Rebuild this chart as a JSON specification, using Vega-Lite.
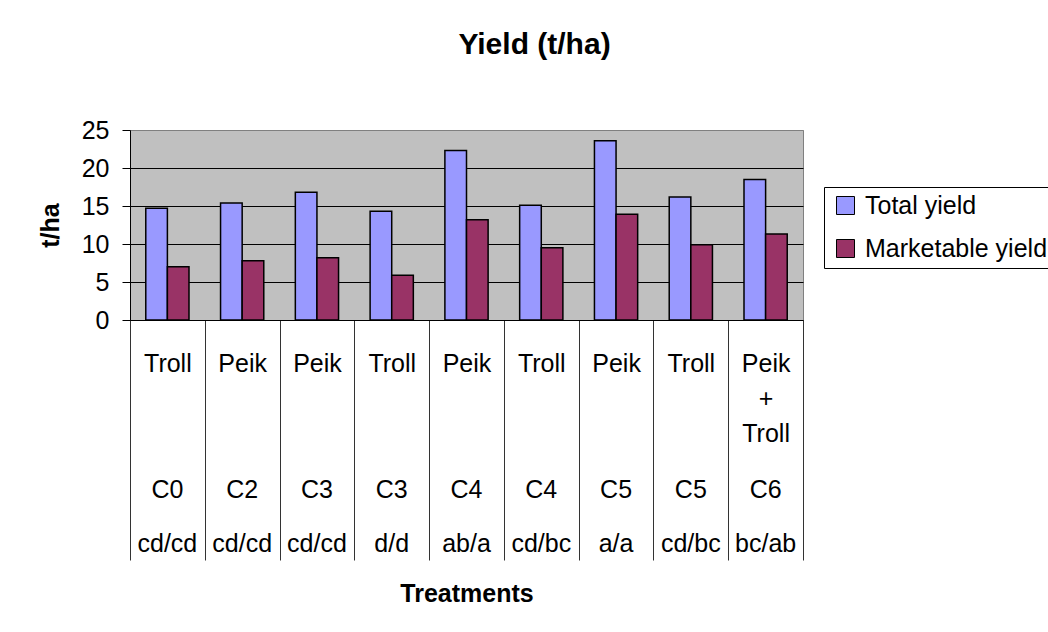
{
  "$schema": "https://vega.github.io/schema/vega-lite/v6.json",
  "width": 673,
  "height": 190,
  "autosize": {"type": "none"},
  "padding": {"left": 130, "top": 130, "right": 245, "bottom": 312},
  "background": "white",
  "config": {
    "font": "Liberation Sans",
    "view": {"stroke": "#808080", "fill": "#C0C0C0", "strokeWidth": 1}
  },
  "title": {
    "text": "Yield (t/ha)",
    "fontSize": 30,
    "fontWeight": "bold",
    "color": "black",
    "anchor": "middle",
    "frame": "group",
    "dx": 68,
    "offset": 58
  },
  "data": {
    "values": [
      {"treatment": "Troll|C0|cd/cd", "series": "Total yield", "value": 14.7},
      {"treatment": "Troll|C0|cd/cd", "series": "Marketable yield", "value": 7.0},
      {"treatment": "Peik|C2|cd/cd", "series": "Total yield", "value": 15.4},
      {"treatment": "Peik|C2|cd/cd", "series": "Marketable yield", "value": 7.8},
      {"treatment": "Peik|C3|cd/cd", "series": "Total yield", "value": 16.8},
      {"treatment": "Peik|C3|cd/cd", "series": "Marketable yield", "value": 8.2},
      {"treatment": "Troll|C3|d/d", "series": "Total yield", "value": 14.3},
      {"treatment": "Troll|C3|d/d", "series": "Marketable yield", "value": 5.9},
      {"treatment": "Peik|C4|ab/a", "series": "Total yield", "value": 22.3},
      {"treatment": "Peik|C4|ab/a", "series": "Marketable yield", "value": 13.2},
      {"treatment": "Troll|C4|cd/bc", "series": "Total yield", "value": 15.1},
      {"treatment": "Troll|C4|cd/bc", "series": "Marketable yield", "value": 9.5},
      {"treatment": "Peik|C5|a/a", "series": "Total yield", "value": 23.6},
      {"treatment": "Peik|C5|a/a", "series": "Marketable yield", "value": 13.9},
      {"treatment": "Troll|C5|cd/bc", "series": "Total yield", "value": 16.2},
      {"treatment": "Troll|C5|cd/bc", "series": "Marketable yield", "value": 9.9},
      {"treatment": "Peik + Troll|C6|bc/ab", "series": "Total yield", "value": 18.5},
      {"treatment": "Peik + Troll|C6|bc/ab", "series": "Marketable yield", "value": 11.3}
    ]
  },
  "layer": [
    {
      "mark": {"type": "bar", "stroke": "black", "strokeWidth": 1.5},
      "encoding": {
        "x": {
          "field": "treatment",
          "type": "nominal",
          "sort": null,
          "scale": {"paddingInner": 0, "paddingOuter": 0},
          "axis": {
            "orient": "bottom",
            "title": "Treatments",
            "titleFontSize": 25,
            "titleFontWeight": "bold",
            "titleColor": "black",
            "titleY": 261,
            "titleBaseline": "top",
            "labelExpr": "datum.value ? split(split(datum.value, '|')[0], ' ') : ''",
            "labelFontSize": 25,
            "labelLineHeight": 35,
            "labelColor": "black",
            "labelAngle": 0,
            "labelAlign": "center",
            "labelBaseline": "top",
            "labelPadding": -209,
            "labelOverlap": false,
            "labelBound": false,
            "labelLimit": 0,
            "tickSize": 240,
            "tickBand": "extent",
            "tickColor": "#333333",
            "tickWidth": 1,
            "domainColor": "black",
            "domainWidth": 1,
            "grid": false
          }
        },
        "xOffset": {
          "field": "series",
          "type": "nominal",
          "sort": ["Total yield", "Marketable yield"],
          "scale": {"paddingInner": 0, "paddingOuter": 0.73}
        },
        "y": {
          "field": "value",
          "type": "quantitative",
          "scale": {"domain": [0, 25], "nice": false},
          "axis": {
            "title": "t/ha",
            "titleFontSize": 25,
            "titleFontWeight": "bold",
            "titleColor": "black",
            "titleX": -80,
            "titleY": 95,
            "titleAngle": -90,
            "titleAlign": "center",
            "titleBaseline": "middle",
            "values": [0, 5, 10, 15, 20, 25],
            "labelFontSize": 25,
            "labelColor": "black",
            "labelPadding": 13,
            "tickSize": 8,
            "tickColor": "black",
            "domainColor": "black",
            "grid": true,
            "gridColor": {"condition": {"test": "datum.value == 25", "value": "#808080"}, "value": "black"},
            "gridWidth": 1,
            "gridOpacity": 1
          }
        },
        "color": {
          "field": "series",
          "type": "nominal",
          "scale": {"domain": ["Total yield", "Marketable yield"], "range": ["#9999FF", "#993366"]},
          "legend": {
            "orient": "none",
            "legendX": 694,
            "legendY": 57,
            "title": null,
            "strokeColor": "black",
            "fillColor": "white",
            "padding": 6,
            "symbolType": "square",
            "symbolSize": 324,
            "symbolStrokeColor": "black",
            "symbolStrokeWidth": 1,
            "symbolOpacity": 1,
            "symbolOffset": 3,
            "labelFontSize": 25,
            "labelColor": "black",
            "labelOffset": 7,
            "labelLimit": 0,
            "rowPadding": 17
          }
        }
      }
    },
    {
      "mark": {"type": "bar", "opacity": 0},
      "encoding": {
        "x": {
          "field": "treatment",
          "type": "nominal",
          "sort": null,
          "axis": {
            "orient": "bottom",
            "title": null,
            "labelExpr": "datum.value ? split(datum.value, '|')[1] : ''",
            "labelFontSize": 25,
            "labelColor": "black",
            "labelAngle": 0,
            "labelAlign": "center",
            "labelBaseline": "top",
            "labelPadding": 157,
            "labelOverlap": false,
            "labelBound": false,
            "labelLimit": 0,
            "ticks": false,
            "tickSize": 0,
            "domain": false,
            "grid": false
          }
        }
      }
    },
    {
      "mark": {"type": "bar", "opacity": 0},
      "encoding": {
        "x": {
          "field": "treatment",
          "type": "nominal",
          "sort": null,
          "axis": {
            "orient": "bottom",
            "title": null,
            "labelExpr": "datum.value ? split(datum.value, '|')[2] : ''",
            "labelFontSize": 25,
            "labelColor": "black",
            "labelAngle": 0,
            "labelAlign": "center",
            "labelBaseline": "top",
            "labelPadding": 211,
            "labelOverlap": false,
            "labelBound": false,
            "labelLimit": 0,
            "ticks": false,
            "tickSize": 0,
            "domain": false,
            "grid": false
          }
        }
      }
    }
  ],
  "resolve": {"axis": {"x": "independent"}}
}
